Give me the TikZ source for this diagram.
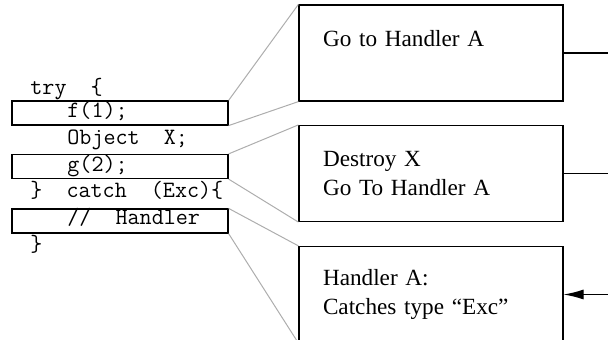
\documentclass[tikz,border=0pt]{standalone}
\usepackage{fontspec}
\setmainfont{Liberation Serif}
\setmonofont[WordSpace=2]{Latin Modern Mono}
\usetikzlibrary{arrows.meta}

\tikzset{
  codeline/.style={font=\ttfamily\fontsize{11.7}{12}\selectfont, inner sep=0pt, anchor=base west},
  codebox/.style={draw, line width=0.6pt, minimum width=108pt, minimum height=12pt, inner sep=0pt},
  actbox/.style={draw, line width=0.6pt, minimum width=132pt, minimum height=48pt,
    text width=108pt, inner xsep=12pt, align=left,
    font=\fontsize{11.6}{14.5}\selectfont},
  lead/.style={draw=black!32, line width=0.5pt}
}

\begin{document}
\begin{tikzpicture}[x=0.5pt, y=-0.5pt]
\useasboundingbox (0,0) rectangle (608,340);
\clip (0,0) rectangle (608,340);

% code boxes
\node [codebox] (fbox) at (120,113) {};
\node [codebox] (gbox) at (120,166.5) {};
\node [codebox] (hbox) at (120,221) {};

% code
\node [codeline] (ltry)   at (30,95)  {try \{};
\node [codeline] (lf)     at (67,118) {f(1);};
\node [codeline] (lobj)   at (67,145) {Object X;};
\node [codeline] (lg)     at (67,172) {g(2);};
\node [codeline] (lcatch) at (30,198) {\} catch (Exc)\{};
\node [codeline] (lhand)  at (67,225) {// Handler};
\node [codeline] (lend)   at (30,252) {\}};

% actions
\node [actbox] (goA)     at (431,53)    {Go to Handler A\\ \mbox{}};
\node [actbox] (destroy) at (431,173.5) {Destroy X\\Go To Handler A};
\node [actbox] (handA)   at (431,294.5) {Handler A:\\Catches type ``Exc''};

\coordinate (out1) at (608,53);
\coordinate (out2) at (608,173.5);
\coordinate (in3)  at (608,294.5);

\draw [lead] (fbox.north east) -- (goA.north west);
\draw [lead] (fbox.south east) -- (goA.south west);
\draw [lead] (gbox.north east) -- (destroy.north west);
\draw [lead] (gbox.south east) -- (destroy.south west);
\draw [lead] (hbox.north east) -- (handA.north west);
\draw [lead] (hbox.south east) -- (handA.south west);

\draw [line width=0.6pt] (goA.east) -- (out1);
\draw [line width=0.6pt] (destroy.east) -- (out2);
\draw [line width=0.6pt, -{Latex[length=10pt, width=5pt]}] (in3) -- (handA.east);
\end{tikzpicture}
\end{document}
